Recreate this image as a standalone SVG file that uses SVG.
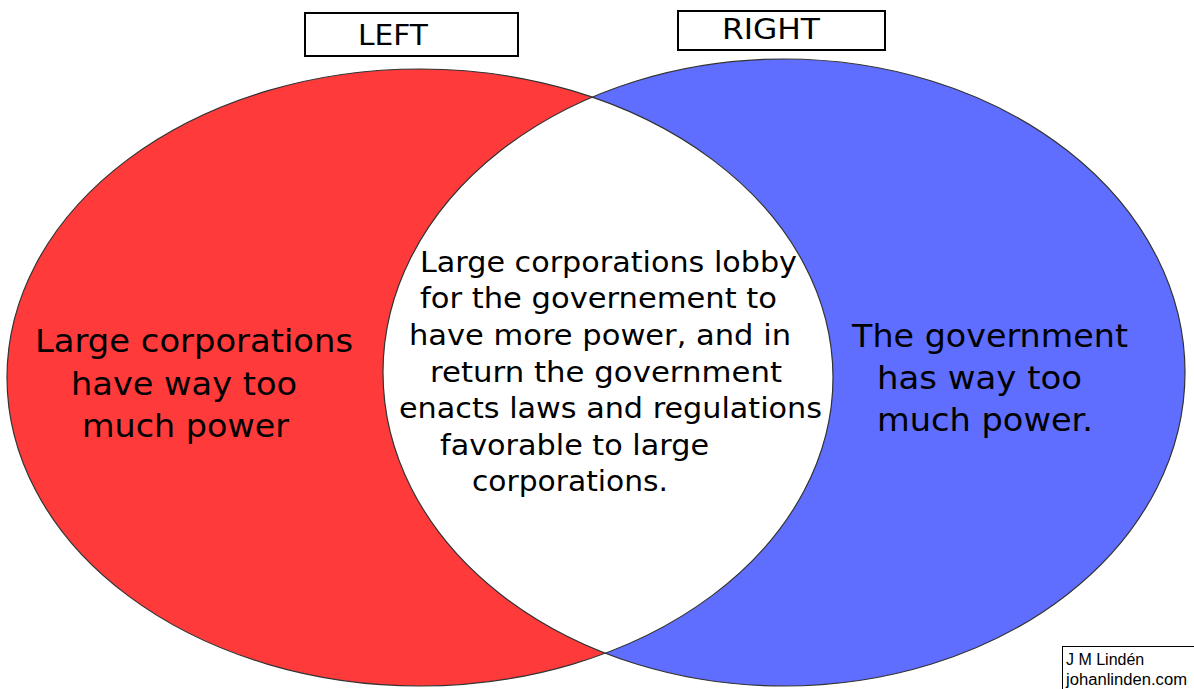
<svg xmlns="http://www.w3.org/2000/svg" width="1194" height="689" viewBox="0 0 1194 689">
<style>
.lbl{font-family:"DejaVu Sans",Verdana,sans-serif;fill:#000}
.box{fill:#fff;stroke:#000;stroke-width:2}
.outline{fill:none;stroke:#333;stroke-width:1.2}
.credit{font-family:"Liberation Sans",Arial,sans-serif;font-size:16px;fill:#000}
</style>
<defs>
<clipPath id="clipLeft"><ellipse cx="420" cy="377.5" rx="413" ry="308.5"/></clipPath>
</defs>
<rect width="1194" height="689" fill="#fff"/>
<g id="left-set">
<ellipse cx="420" cy="377.5" rx="413" ry="308.5" fill="#FF3A3A"/>
</g>
<g id="right-set">
<ellipse cx="784" cy="372.5" rx="401" ry="313.5" fill="#5F6EFF"/>
</g>
<g id="overlap">
<ellipse cx="784" cy="372.5" rx="401" ry="313.5" fill="#fff" clip-path="url(#clipLeft)"/>
</g>
<g id="outlines">
<ellipse class="outline" cx="420" cy="377.5" rx="413" ry="308.5"/>
<ellipse class="outline" cx="784" cy="372.5" rx="401" ry="313.5"/>
</g>
<g id="left-label">
<rect class="box" x="305" y="13" width="213" height="43"/>
<text class="lbl" x="358" y="45" font-size="28" textLength="70" lengthAdjust="spacingAndGlyphs">LEFT</text>
</g>
<g id="right-label">
<rect class="box" x="678" y="11" width="207" height="39"/>
<text class="lbl" x="722" y="39" font-size="28" textLength="98" lengthAdjust="spacingAndGlyphs">RIGHT</text>
</g>
<g id="left-text" class="lbl" font-size="32">
<text x="35" y="352" textLength="318" lengthAdjust="spacingAndGlyphs">Large corporations</text>
<text x="71" y="395" textLength="226" lengthAdjust="spacingAndGlyphs">have way too</text>
<text x="82" y="437" textLength="207" lengthAdjust="spacingAndGlyphs">much power</text>
</g>
<g id="center-text" class="lbl" font-size="29">
<text x="420" y="272" textLength="377" lengthAdjust="spacingAndGlyphs">Large corporations lobby</text>
<text x="420" y="308" textLength="357" lengthAdjust="spacingAndGlyphs">for the governement to</text>
<text x="409" y="345" textLength="382" lengthAdjust="spacingAndGlyphs">have more power, and in</text>
<text x="430" y="382" textLength="352" lengthAdjust="spacingAndGlyphs">return the government</text>
<text x="399" y="418" textLength="423" lengthAdjust="spacingAndGlyphs">enacts laws and regulations</text>
<text x="440" y="455" textLength="269" lengthAdjust="spacingAndGlyphs">favorable to large</text>
<text x="472" y="491" textLength="196" lengthAdjust="spacingAndGlyphs">corporations.</text>
</g>
<g id="right-text" class="lbl" font-size="32">
<text x="852" y="347" textLength="276" lengthAdjust="spacingAndGlyphs">The government</text>
<text x="877" y="389" textLength="205" lengthAdjust="spacingAndGlyphs">has way too</text>
<text x="877" y="431" textLength="216" lengthAdjust="spacingAndGlyphs">much power.</text>
</g>
<g id="credit">
<rect x="1062.5" y="646.5" width="140" height="50" fill="#fff" stroke="#000" stroke-width="1"/>
<text class="credit" x="1066" y="665">J M Lindén</text>
<text class="credit" x="1066" y="685" textLength="121" lengthAdjust="spacingAndGlyphs">johanlinden.com</text>
</g>
</svg>
